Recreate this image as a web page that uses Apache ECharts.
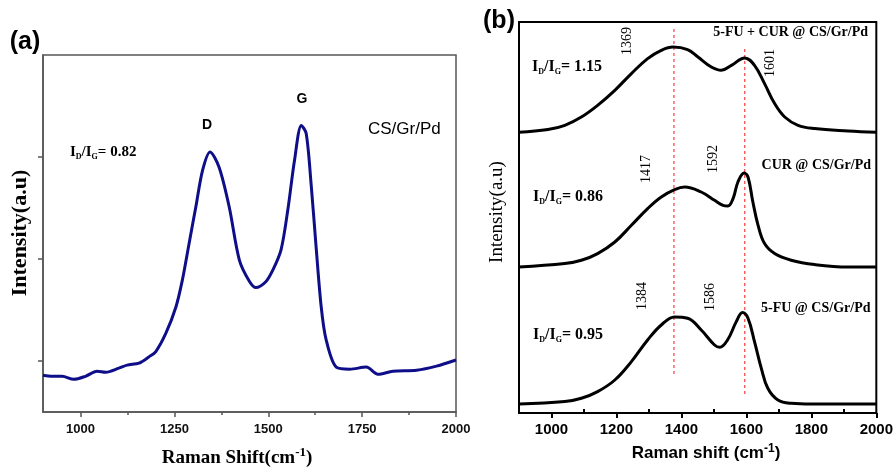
<!DOCTYPE html>
<html>
<head>
<meta charset="utf-8">
<script src="https://cdn.jsdelivr.net/npm/echarts@6/dist/echarts.min.js"></script>
<style>
  html, body { margin: 0; padding: 0; background: #fff; }
  #main { width: 896px; height: 468px; }
</style>
</head>
<body>
<div id="main"></div>
<script>
// (a) CS/Gr/Pd spectrum
const shiftA = [900, 924, 951, 982, 1013, 1044, 1067, 1102, 1124, 1156, 1182, 1200, 1227, 1254, 1271, 1289, 1307, 1325, 1345, 1369, 1396, 1423, 1450, 1467, 1494, 1512, 1534, 1552, 1570, 1588, 1601, 1614, 1628, 1641, 1654, 1681, 1717, 1761, 1792, 1832, 1895, 1948, 2000];
const intensityA = [-0.14, -0.15, -0.15, -0.18, -0.15, -0.10, -0.11, -0.07, -0.04, -0.02, 0.04, 0.09, 0.27, 0.53, 0.79, 1.15, 1.51, 1.87, 2.05, 1.90, 1.51, 0.99, 0.78, 0.72, 0.78, 0.89, 1.09, 1.48, 1.97, 2.31, 2.23, 1.74, 1.09, 0.53, 0.21, -0.06, -0.08, -0.06, -0.13, -0.10, -0.09, -0.05, 0.01];
const ticksA = [1000, 1250, 1500, 1750, 2000];
const minorTicksA = [1125, 1375, 1625, 1875];

// (b) stacked spectra
const shift5FU = [900, 1041, 1092, 1142, 1195, 1246, 1296, 1338, 1379, 1419, 1461, 1502, 1518, 1542, 1569, 1588, 1605, 1625, 1646, 1666, 1697, 1738, 1800, 2000];
const int5FU = [0, 2.4, 5.7, 12.4, 24, 42.4, 64, 79, 87, 85.7, 74, 59, 56.7, 64, 82.4, 91.4, 85.7, 62.4, 35.7, 15.7, 4, 0.7, 0, 0];
const shiftCUR = [900, 1041, 1092, 1142, 1195, 1246, 1296, 1338, 1379, 1410, 1461, 1502, 1528, 1543, 1559, 1574, 1593, 1605, 1620, 1636, 1656, 1687, 1738, 1810, 1913, 2000];
const intCUR = [0, 3.4, 6.7, 13.4, 25, 41.7, 58.4, 70, 77.4, 80, 75, 66.7, 61.7, 61, 68.4, 85, 94, 90, 65, 41.7, 23.4, 13.4, 6.7, 2.4, 0, 0];
const shiftMix = [900, 989, 1041, 1092, 1142, 1195, 1246, 1296, 1338, 1374, 1419, 1451, 1492, 1523, 1554, 1595, 1625, 1656, 1687, 1718, 1759, 1810, 1913, 2000];
const intMix = [0, 2.7, 7, 15.3, 27, 42, 58.7, 73.7, 82, 85.3, 82.7, 75.3, 65.3, 62, 67, 74.3, 67, 48.7, 28.7, 15.3, 7, 3.7, 1.3, 0];
const offsetsB = [9, 146, 280.7]; // 5-FU, CUR, 5-FU + CUR
const ticksB = [1000, 1200, 1400, 1600, 1800, 2000];
const minorTicksB = [1100, 1300, 1500, 1700, 1900];
const dashD = [1377, 384, 38];
const dashG = [1595, 364, 19];

const pairs = (xs, ys, off) => xs.map((x, i) => [x, ys[i] + off]);

const serif = 'Liberation Serif';
const sans = 'Liberation Sans';

const ratio = (x, y, val, size) => ({
  type: 'text', x: x, y: y,
  style: {
    text: '{m|I}{s|D}{m|/I}{s|G}{m|= ' + val + '}',
    verticalAlign: 'middle',
    rich: {
      m: { fontFamily: serif, fontWeight: 'bold', fontSize: size, fill: '#000' },
      s: { fontFamily: serif, fontWeight: 'bold', fontSize: 8, padding: [9, 0, 0, 0], fill: '#000' }
    }
  }
});
const label = (x, y, text, font, align, rot) => ({
  type: 'text', x: x, y: y, rotation: rot || 0,
  style: Object.assign({ text: text, align: align || 'center', verticalAlign: 'middle', fill: '#000' }, font)
});
const peakNum = (x, y, text) => label(x, y, text, { fontFamily: serif, fontSize: 14 }, 'center', Math.PI / 2);
const tagFont = { fontFamily: serif, fontWeight: 'bold', fontSize: 14 };
const dashStyle = { color: '#ff3b3b', width: 1.2, type: [3, 3] };

const chart = echarts.init(document.getElementById('main'));

chart.setOption({
  animation: false,
  backgroundColor: '#fff',
  grid: [
    { left: 43, top: 55, width: 413, height: 357, show: true, borderColor: '#555', borderWidth: 1.5 },
    { left: 519, top: 22, width: 358, height: 391, show: true, borderColor: '#000', borderWidth: 2 }
  ],
  xAxis: [
    {
      gridIndex: 0, type: 'value', min: 900, max: 2000,
      axisLine: { onZero: false, lineStyle: { color: '#555', width: 1.5 } },
      axisTick: { customValues: ticksA, length: 5, lineStyle: { color: '#555', width: 1.5 } },
      axisLabel: { customValues: ticksA, formatter: v => String(v), fontFamily: sans, fontWeight: 'bold', fontSize: 13, color: '#111', margin: 11 },
      splitLine: { show: false }
    },
    {
      gridIndex: 0, type: 'value', min: 900, max: 2000, position: 'bottom',
      axisLine: { show: false, onZero: false },
      axisTick: { customValues: minorTicksA, length: 3, lineStyle: { color: '#555', width: 1.5 } },
      axisLabel: { show: false },
      splitLine: { show: false }
    },
    {
      gridIndex: 1, type: 'value', min: 900, max: 2000,
      axisLine: { onZero: false, lineStyle: { color: '#000', width: 2 } },
      axisTick: { customValues: ticksB, length: 5, lineStyle: { color: '#000', width: 2 } },
      axisLabel: { customValues: ticksB, formatter: v => String(v), fontFamily: sans, fontWeight: 'bold', fontSize: 15, color: '#000', margin: 9 },
      splitLine: { show: false }
    },
    {
      gridIndex: 1, type: 'value', min: 900, max: 2000, position: 'bottom',
      axisLine: { show: false, onZero: false },
      axisTick: { customValues: minorTicksB, inside: true, length: 4, lineStyle: { color: '#000', width: 2 } },
      axisLabel: { show: false },
      splitLine: { show: false }
    }
  ],
  yAxis: [
    {
      gridIndex: 0, type: 'value', min: -0.5, max: 3,
      axisLine: { show: true, onZero: false, lineStyle: { color: '#555', width: 1.5 } },
      axisTick: { show: true, customValues: [0, 1, 2], length: 5, lineStyle: { color: '#555', width: 1.5 } },
      axisLabel: { show: false },
      splitLine: { show: false }
    },
    {
      gridIndex: 1, type: 'value', min: 0, max: 391,
      axisLine: { show: true, onZero: false, lineStyle: { color: '#000', width: 2 } },
      axisTick: { show: false },
      axisLabel: { show: false },
      splitLine: { show: false }
    }
  ],
  series: [
    {
      type: 'line', xAxisIndex: 0, yAxisIndex: 0, smooth: 0.3, symbol: 'none',
      lineStyle: { color: '#0e0e88', width: 3 },
      data: pairs(shiftA, intensityA, 0)
    },
    {
      type: 'line', xAxisIndex: 2, yAxisIndex: 1, symbol: 'none', silent: true, z: 1,
      itemStyle: { color: '#ff3b3b' }, lineStyle: dashStyle,
      data: [[dashD[0], dashD[1]], [dashD[0], dashD[2]]]
    },
    {
      type: 'line', xAxisIndex: 2, yAxisIndex: 1, symbol: 'none', silent: true, z: 1,
      itemStyle: { color: '#ff3b3b' }, lineStyle: dashStyle,
      data: [[dashG[0], dashG[1]], [dashG[0], dashG[2]]]
    },
    {
      type: 'line', xAxisIndex: 2, yAxisIndex: 1, smooth: 0.4, symbol: 'none', z: 3,
      lineStyle: { color: '#000', width: 3 },
      data: pairs(shift5FU, int5FU, offsetsB[0])
    },
    {
      type: 'line', xAxisIndex: 2, yAxisIndex: 1, smooth: 0.4, symbol: 'none', z: 3,
      lineStyle: { color: '#000', width: 3 },
      data: pairs(shiftCUR, intCUR, offsetsB[1])
    },
    {
      type: 'line', xAxisIndex: 2, yAxisIndex: 1, smooth: 0.4, symbol: 'none', z: 3,
      lineStyle: { color: '#000', width: 3 },
      data: pairs(shiftMix, intMix, offsetsB[2])
    }
  ],
  graphic: [
    // panel (a)
    label(25, 42, '(a)', { fontFamily: sans, fontWeight: 'bold', fontSize: 25 }),
    label(207, 125, 'D', { fontFamily: sans, fontWeight: 'bold', fontSize: 14 }),
    label(302, 99, 'G', { fontFamily: sans, fontWeight: 'bold', fontSize: 14 }),
    label(368, 129, 'CS/Gr/Pd', { fontFamily: sans, fontSize: 17 }, 'left'),
    ratio(70, 152, '0.82', 15),
    label(20, 233, 'Intensity(a.u)', { fontFamily: serif, fontWeight: 'bold', fontSize: 22 }, 'center', Math.PI / 2),
    {
      type: 'text', x: 237, y: 458,
      style: {
        text: '{m|Raman Shift(cm}{u|-1}{m|)}', align: 'center', verticalAlign: 'middle',
        rich: {
          m: { fontFamily: serif, fontWeight: 'bold', fontSize: 19, fill: '#000' },
          u: { fontFamily: serif, fontWeight: 'bold', fontSize: 13, padding: [0, 0, 10, 0], fill: '#000' }
        }
      }
    },
    // panel (b)
    label(499, 21, '(b)', { fontFamily: sans, fontWeight: 'bold', fontSize: 25 }),
    label(868, 32, '5-FU + CUR @ CS/Gr/Pd', tagFont, 'right'),
    label(871, 165, 'CUR @ CS/Gr/Pd', tagFont, 'right'),
    label(761, 308, '5-FU @ CS/Gr/Pd', tagFont, 'left'),
    ratio(532, 67, '1.15', 16),
    ratio(533, 197, '0.86', 16),
    ratio(533, 335, '0.95', 16),
    peakNum(627, 41, '1369'),
    peakNum(770, 63, '1601'),
    peakNum(646, 169, '1417'),
    peakNum(713, 159, '1592'),
    peakNum(642, 296, '1384'),
    peakNum(710, 297, '1586'),
    label(497, 212, 'Intensity(a.u)', { fontFamily: serif, fontSize: 19 }, 'center', Math.PI / 2),
    {
      type: 'text', x: 706, y: 453,
      style: {
        text: '{m|Raman shift (cm}{u|-1}{m|)}', align: 'center', verticalAlign: 'middle',
        rich: {
          m: { fontFamily: sans, fontWeight: 'bold', fontSize: 17, fill: '#000' },
          u: { fontFamily: sans, fontWeight: 'bold', fontSize: 12, padding: [0, 0, 9, 0], fill: '#000' }
        }
      }
    }
  ]
});
</script>
</body>
</html>
